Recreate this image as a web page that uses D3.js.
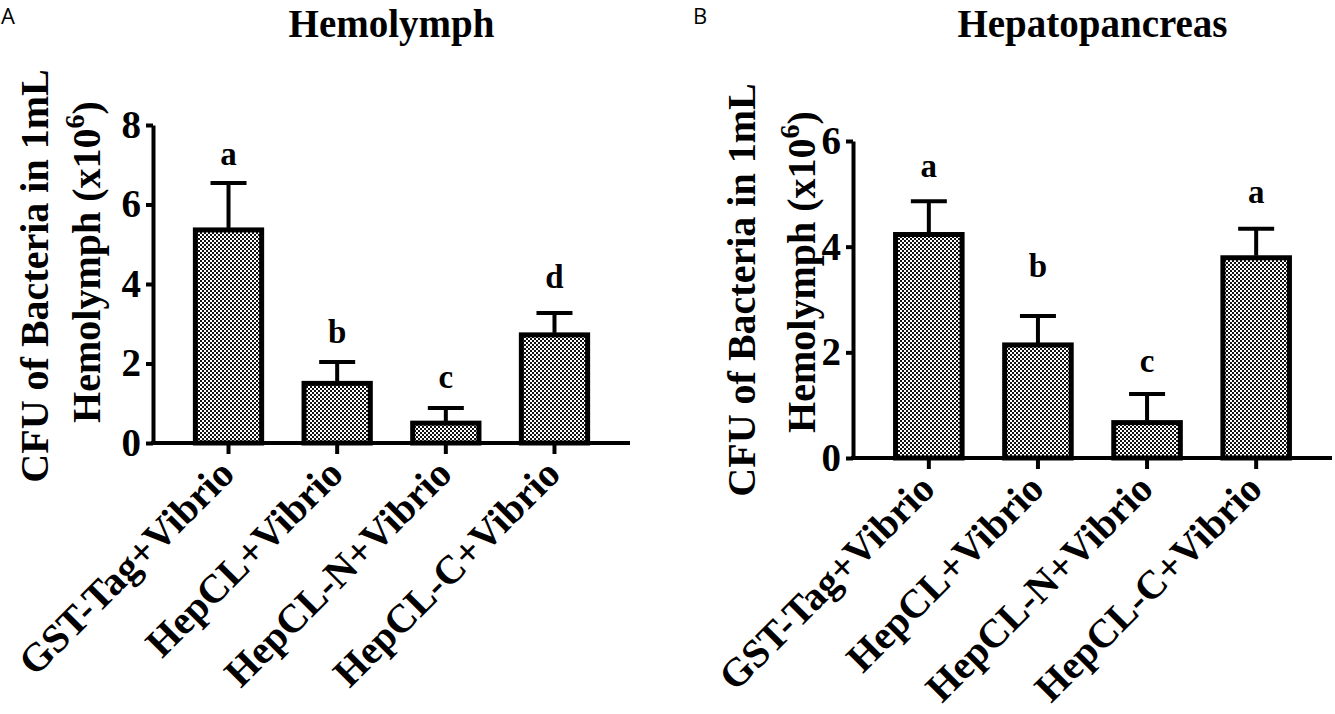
<!DOCTYPE html>
<html>
<head>
<meta charset="utf-8">
<script src="https://cdn.jsdelivr.net/npm/d3@7"></script>
<style>
  body { margin: 0; background: #fff; }
  svg { display: block; }
  .serif { font-family: "Liberation Serif", "Times New Roman", serif; font-weight: bold; }
</style>
</head>
<body>
<svg id="chart" width="1335" height="714"></svg>
<script>
// categories (same for both panels)
const groups = ["GST-Tag+Vibrio", "HepCL+Vibrio", "HepCL-N+Vibrio", "HepCL-C+Vibrio"];

// panel A - hemolymph
const hemoMean    = [5.36, 1.50, 0.50, 2.72];
const hemoSem     = [1.18, 0.54, 0.38, 0.55];
const hemoLetters = ["a", "b", "c", "d"];
const hemoLetterAt = [6.99, 2.52, 1.38, 3.90];
const hemoTicks   = [0, 2, 4, 6, 8];

// panel B - hepatopancreas
const hepaMean    = [4.23, 2.14, 0.67, 3.79];
const hepaSem     = [0.63, 0.55, 0.54, 0.55];
const hepaLetters = ["a", "b", "c", "a"];
const hepaLetterAt = [5.31, 3.42, 1.63, 4.82];
const hepaTicks   = [0, 2, 4, 6];

const svg = d3.select("#chart");

// checker pattern for the bars
const pat = svg.append("defs").append("pattern")
  .attr("id", "checker")
  .attr("width", 4).attr("height", 4)
  .attr("patternUnits", "userSpaceOnUse");
pat.append("rect").attr("width", 4).attr("height", 4).attr("fill", "#fff");
pat.append("rect").attr("width", 2).attr("height", 2).attr("fill", "#111");
pat.append("rect").attr("x", 2).attr("y", 2).attr("width", 2).attr("height", 2).attr("fill", "#111");

function drawPanel(opt) {
  const g = svg.append("g");

  const x = d3.scaleBand()
    .domain(groups)
    .range([opt.left, opt.right])
    .padding(0.39);

  const y = d3.scaleLinear()
    .domain([0, d3.max(opt.ticks)])
    .range([opt.bottom, opt.top]);

  // bars
  g.selectAll(".bar")
    .data(opt.mean)
    .join("rect")
    .attr("x", (d, i) => x(groups[i]))
    .attr("y", d => y(d))
    .attr("width", x.bandwidth())
    .attr("height", d => y(0) - y(d))
    .attr("fill", "url(#checker)")
    .attr("stroke", "#000")
    .attr("stroke-width", 5);

  // error bars (upper only)
  const cx = i => x(groups[i]) + x.bandwidth() / 2;
  g.selectAll(".err")
    .data(opt.mean)
    .join("line")
    .attr("x1", (d, i) => cx(i)).attr("x2", (d, i) => cx(i))
    .attr("y1", d => y(d) - 2)
    .attr("y2", (d, i) => y(d + opt.sem[i]))
    .attr("stroke", "#000").attr("stroke-width", 4);
  g.selectAll(".cap")
    .data(opt.mean)
    .join("line")
    .attr("x1", (d, i) => cx(i) - 18).attr("x2", (d, i) => cx(i) + 18)
    .attr("y1", (d, i) => y(d + opt.sem[i]))
    .attr("y2", (d, i) => y(d + opt.sem[i]))
    .attr("stroke", "#000").attr("stroke-width", 4);

  // significance letters
  g.selectAll(".letter")
    .data(opt.letters)
    .join("text")
    .attr("class", "serif")
    .attr("x", (d, i) => cx(i))
    .attr("y", (d, i) => y(opt.letterAt[i]))
    .attr("text-anchor", "middle")
    .attr("font-size", 33)
    .text(d => d);

  // y axis
  const yAxis = g.append("g")
    .attr("transform", `translate(${opt.left},0)`)
    .call(d3.axisLeft(y).tickValues(opt.ticks).tickFormat(d3.format("d"))
      .tickSize(7).tickSizeOuter(0).tickPadding(5));
  yAxis.select(".domain").attr("stroke-width", 4);
  yAxis.selectAll(".tick line").attr("stroke-width", 4);
  yAxis.selectAll(".tick text")
    .attr("class", "serif")
    .attr("font-size", 39)
    .attr("fill", "#000");

  // x axis
  const xAxis = g.append("g")
    .attr("transform", `translate(0,${opt.bottom})`)
    .call(d3.axisBottom(x).tickSize(11).tickSizeOuter(0).tickFormat(""));
  xAxis.select(".domain").attr("stroke-width", 4).attr("d", `M${opt.left - 2},0H${opt.right}`);
  xAxis.selectAll(".tick line").attr("stroke-width", 4);

  // rotated category labels
  g.selectAll(".xlab")
    .data(groups)
    .join("text")
    .attr("class", "serif")
    .attr("font-size", 40)
    .attr("text-anchor", "end")
    .attr("transform", d => `translate(${x(d) + x.bandwidth() / 2 + 8},${opt.bottom + 33}) rotate(-45)`)
    .text(d => d);

  // title
  g.append("text")
    .attr("class", "serif")
    .attr("x", (opt.left + opt.right) / 2)
    .attr("y", 37)
    .attr("text-anchor", "middle")
    .attr("font-size", 39)
    .text(opt.title);

  // y label, two lines
  g.append("text")
    .attr("class", "serif")
    .attr("font-size", 40)
    .attr("text-anchor", "middle")
    .attr("transform", `translate(${opt.lab1X},${opt.lab1Y}) rotate(-90)`)
    .text("CFU of Bacteria in 1mL");
  const l2 = g.append("text")
    .attr("class", "serif")
    .attr("font-size", 40)
    .attr("text-anchor", "middle")
    .attr("transform", `translate(${opt.lab2X},${opt.lab2Y}) rotate(-90)`);
  l2.append("tspan").text("Hemolymph (x10");
  l2.append("tspan").attr("font-size", 28).attr("dy", -16).text("6");
  l2.append("tspan").attr("dy", 16).text(")");

  // panel letter
  svg.append("text")
    .attr("x", opt.tagX)
    .attr("y", 24)
    .attr("font-family", "'Open Sans', sans-serif")
    .attr("font-size", 22)
    .text(opt.tag);
}

drawPanel({
  tag: "A", tagX: 1, title: "Hemolymph",
  mean: hemoMean, sem: hemoSem, letters: hemoLetters, letterAt: hemoLetterAt, ticks: hemoTicks,
  left: 153, right: 630, top: 125, bottom: 443,
  lab1X: 48, lab1Y: 276, lab2X: 100, lab2Y: 262
});

drawPanel({
  tag: "B", tagX: 693, title: "Hepatopancreas",
  mean: hepaMean, sem: hepaSem, letters: hepaLetters, letterAt: hepaLetterAt, ticks: hepaTicks,
  left: 853, right: 1332, top: 141, bottom: 458,
  lab1X: 755, lab1Y: 290, lab2X: 815, lab2Y: 272
});
</script>
</body>
</html>
